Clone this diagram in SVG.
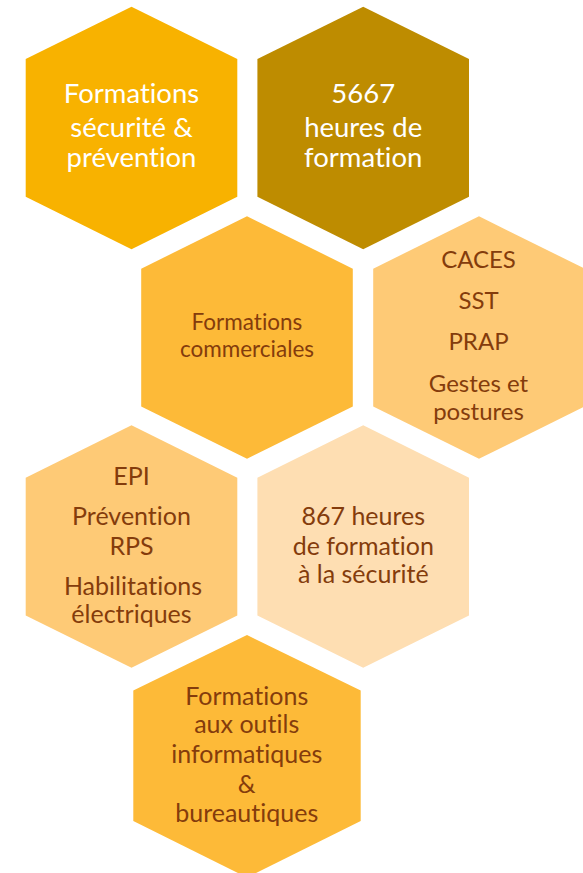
<svg xmlns="http://www.w3.org/2000/svg" width="583" height="873" viewBox="0 0 583 873">
<style>
text{font-family:Lato,"Liberation Sans",sans-serif;text-anchor:middle;font-size:25px;font-variant-ligatures:none}
.w{fill:#FFFFFF;font-size:27.5px}
.b{fill:#843C0C}
.s{font-size:22.5px}
.m{font-size:24px}
</style>
<rect width="583" height="873" fill="#FFFFFF"/>
<g id="hex-securite">
<polygon points="131.5,6.7 237.3,59.1 237.3,196.8 131.5,249.2 25.7,196.8 25.7,59.1" fill="#F8B200"/>
<text class="w" x="131.5" y="103.3">Formations</text>
<text class="w" x="131.5" y="136.5">sécurité &amp;</text>
<text class="w" x="131.5" y="166.7">prévention</text>
</g>
<g id="hex-5667">
<polygon points="363.2,6.7 469,59.1 469,196.8 363.2,249.2 257.4,196.8 257.4,59.1" fill="#BE8C00"/>
<text class="w" x="363.2" y="103.3">5667</text>
<text class="w" x="363.2" y="136.5">heures de</text>
<text class="w" x="363.2" y="166.7">formation</text>
</g>
<g id="hex-commerciales">
<polygon points="247,216.3 352.8,268.7 352.8,406.4 247,458.8 141.2,406.4 141.2,268.7" fill="#FDBA38"/>
<text class="b s" x="247" y="330">Formations</text>
<text class="b s" x="247" y="356.7">commerciales</text>
</g>
<g id="hex-caces">
<polygon points="479,216.3 584.8,268.7 584.8,406.4 479,458.8 373.2,406.4 373.2,268.7" fill="#FECA76"/>
<text class="b m" x="478.5" y="268.3">CACES</text>
<text class="b m" x="478.5" y="309.3">SST</text>
<text class="b m" x="478.5" y="350">PRAP</text>
<text class="b m" x="478.5" y="391.7">Gestes et</text>
<text class="b m" x="478.5" y="420">postures</text>
</g>
<g id="hex-epi">
<polygon points="131.5,425.3 237.3,477.7 237.3,615.4 131.5,667.8 25.7,615.4 25.7,477.7" fill="#FECA76"/>
<text class="b" x="131.5" y="485">EPI</text>
<text class="b" x="131.5" y="525">Prévention</text>
<text class="b" x="131.5" y="555">RPS</text>
<text class="b" x="133" y="595">Habilitations</text>
<text class="b" x="131.5" y="623.3">électriques</text>
</g>
<g id="hex-867">
<polygon points="363.2,425.3 469,477.7 469,615.4 363.2,667.8 257.4,615.4 257.4,477.7" fill="#FEDEB2"/>
<text class="b" x="363.3" y="525">867 heures</text>
<text class="b" x="363.3" y="555">de formation</text>
<text class="b" x="363.3" y="583.3">à la sécurité</text>
</g>
<g id="hex-informatique">
<polygon points="247,635 360.7,690.5 360.7,821 247,877.5 133.3,821 133.3,690.5" fill="#FDBA38"/>
<text class="b" x="246.7" y="705">Formations</text>
<text class="b" x="246.7" y="733.3">aux outils</text>
<text class="b" x="246.7" y="763.3">informatiques</text>
<text class="b" x="246.7" y="792.7">&amp;</text>
<text class="b" x="246.7" y="821.7">bureautiques</text>
</g>
<g id="connectors"/>
</svg>
